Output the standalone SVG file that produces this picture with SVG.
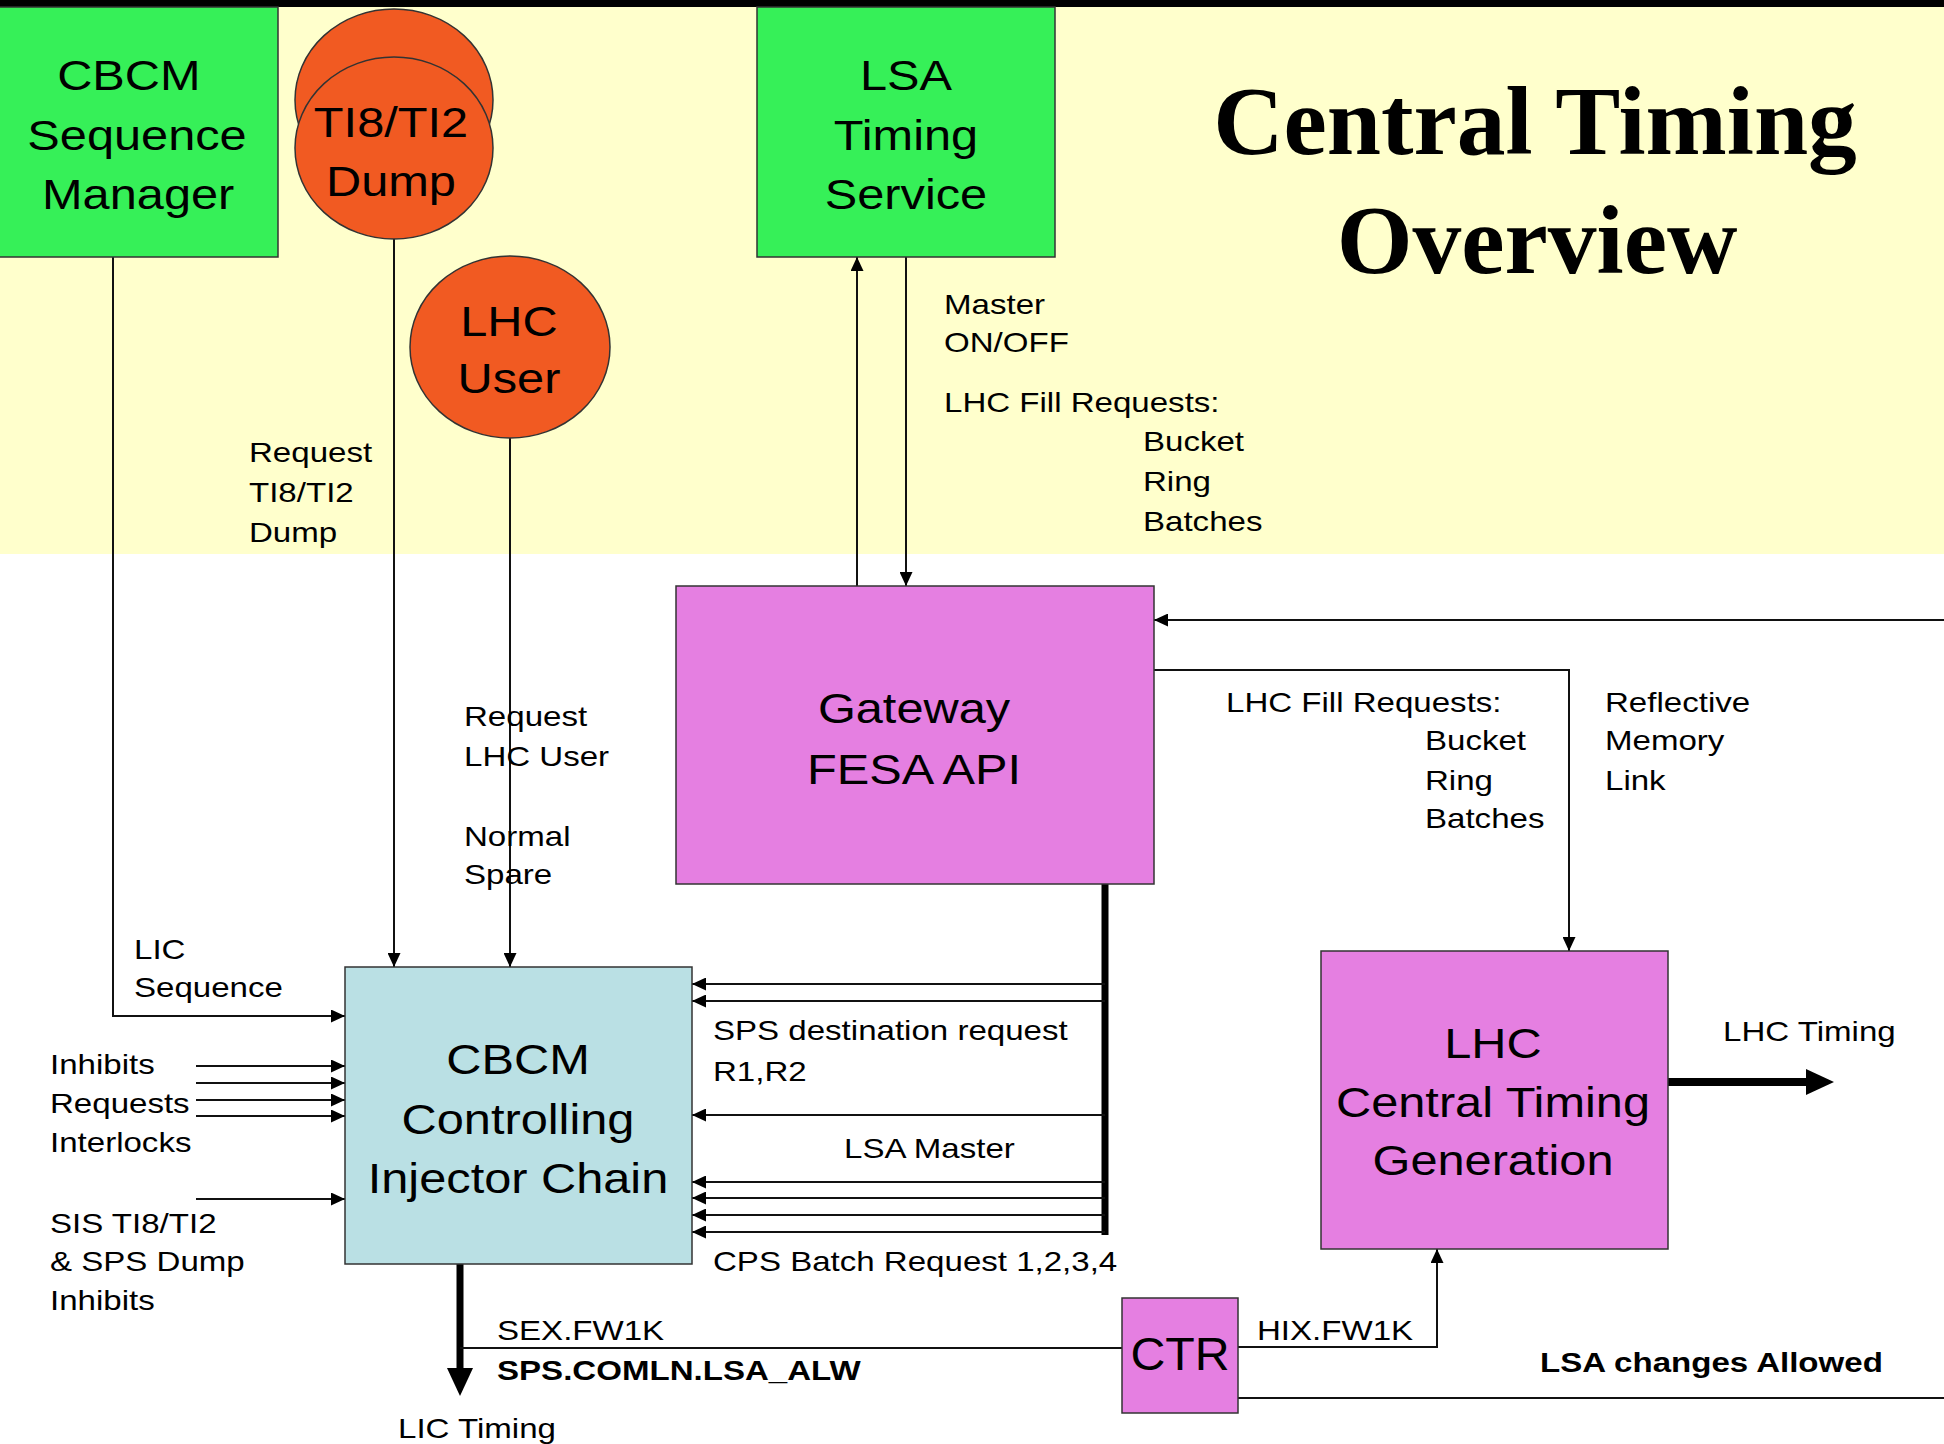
<svg xmlns="http://www.w3.org/2000/svg" width="1944" height="1444" viewBox="0 0 1944 1444">
<defs>
<style>
.n{font-family:"Liberation Sans",Arial,sans-serif;font-size:42px;fill:#000}
.l{font-family:"Liberation Sans",Arial,sans-serif;font-size:28.5px;fill:#000}
.b{font-weight:bold}
.t{font-family:"Liberation Serif","Times New Roman",serif;font-size:97.5px;font-weight:bold;fill:#000}
.green{fill:#36F058;stroke:#333;stroke-width:1.5}
.mag{fill:#E57FE1;stroke:#333;stroke-width:1.5}
.blue{fill:#BAE0E4;stroke:#333;stroke-width:1.5}
.orange{fill:#F15A22;stroke:#333;stroke-width:1.5}
.c{fill:none;stroke:#111;stroke-width:2}
.ca{fill:none;stroke:#111;stroke-width:2;marker-end:url(#ah)}
.thick{fill:none;stroke:#000;stroke-width:7}
</style>
<marker id="ah" viewBox="0 0 14 13" refX="14" refY="6.5" markerWidth="14" markerHeight="13" markerUnits="userSpaceOnUse" orient="auto">
<path d="M0,0 L14,6.5 L0,13 z" fill="#000"/>
</marker>
<marker id="bh" viewBox="0 0 28 26" refX="0" refY="13" markerWidth="28" markerHeight="26" markerUnits="userSpaceOnUse" orient="auto">
<path d="M0,0 L28,13 L0,26 z" fill="#000"/>
</marker>
</defs>
<rect x="0" y="0" width="1944" height="1444" fill="#fff"/>
<rect x="0" y="7" width="1944" height="547" fill="#FFFFCC"/>
<rect x="0" y="0" width="1944" height="7" fill="#000"/>

<g id="connectors">
<path class="ca" d="M113,257 V1016 H345"/>
<path class="ca" d="M394,239 V967"/>
<path class="ca" d="M510,437 V967"/>
<path class="ca" d="M857,586 V257"/>
<path class="ca" d="M906,257 V586"/>
<path class="ca" d="M1944,620 H1154"/>
<path class="ca" d="M1154,670 H1569 V951"/>
<path class="thick" d="M1105,884 V1235"/>
<path class="ca" d="M1105,984 H692"/>
<path class="ca" d="M1105,1001 H692"/>
<path class="ca" d="M1105,1115 H692"/>
<path class="ca" d="M1105,1182 H692"/>
<path class="ca" d="M1105,1198 H692"/>
<path class="ca" d="M1105,1215 H692"/>
<path class="ca" d="M1105,1232 H692"/>
<path class="ca" d="M196,1066 H345"/>
<path class="ca" d="M196,1083 H345"/>
<path class="ca" d="M196,1100 H345"/>
<path class="ca" d="M196,1116 H345"/>
<path class="ca" d="M196,1199 H345"/>
<path class="thick" d="M460,1264 V1368" marker-end="url(#bh)"/>
<path class="c" d="M460,1348 H1122"/>
<path class="ca" d="M1238,1347 H1437 V1249"/>
<path class="c" d="M1238,1398 H1944"/>
<path class="thick" style="stroke-width:8" d="M1668,1082 H1806" marker-end="url(#bh)"/>
</g>

<g id="cbcm-sequence-manager">
<rect class="green" x="-2" y="7" width="280" height="250"/>
<text class="n" text-anchor="middle" transform="translate(137 0) scale(1.16 1)"><tspan x="-7" y="90">CBCM</tspan><tspan x="0" y="150">Sequence</tspan><tspan x="1" y="209">Manager</tspan></text>
</g>

<g id="ti8-ti2-dump">
<ellipse class="orange" cx="394" cy="100" rx="99" ry="91"/>
<ellipse class="orange" cx="394" cy="148" rx="99" ry="91"/>
<text class="n" text-anchor="middle" transform="translate(391 0) scale(1.16 1)"><tspan x="0" y="137">TI8/TI2</tspan><tspan x="0" y="196">Dump</tspan></text>
</g>

<g id="lhc-user">
<ellipse class="orange" cx="510" cy="347" rx="100" ry="91"/>
<text class="n" text-anchor="middle" transform="translate(509 0) scale(1.16 1)"><tspan x="0" y="336">LHC</tspan><tspan x="0" y="393">User</tspan></text>
</g>

<g id="lsa-timing-service">
<rect class="green" x="757" y="7" width="298" height="250"/>
<text class="n" text-anchor="middle" transform="translate(906 0) scale(1.16 1)"><tspan x="0" y="90">LSA</tspan><tspan x="0" y="150">Timing</tspan><tspan x="0" y="209">Service</tspan></text>
</g>

<g id="title">
<text class="t" text-anchor="middle"><tspan x="1535" y="154">Central Timing</tspan><tspan x="1537" y="273">Overview</tspan></text>
</g>

<g id="gateway-fesa-api">
<rect class="mag" x="676" y="586" width="478" height="298"/>
<text class="n" text-anchor="middle" transform="translate(914 0) scale(1.16 1)"><tspan x="0" y="723">Gateway</tspan><tspan x="0" y="784">FESA API</tspan></text>
</g>

<g id="cbcm-controlling-injector-chain">
<rect class="blue" x="345" y="967" width="347" height="297"/>
<text class="n" text-anchor="middle" transform="translate(518 0) scale(1.16 1)"><tspan x="0" y="1074">CBCM</tspan><tspan x="0" y="1134">Controlling</tspan><tspan x="0" y="1193">Injector Chain</tspan></text>
</g>

<g id="lhc-central-timing-generation">
<rect class="mag" x="1321" y="951" width="347" height="298"/>
<text class="n" text-anchor="middle" transform="translate(1493 0) scale(1.16 1)"><tspan x="0" y="1058">LHC</tspan><tspan x="0" y="1117">Central Timing</tspan><tspan x="0" y="1175">Generation</tspan></text>
</g>

<g id="ctr">
<rect class="mag" x="1122" y="1298" width="116" height="115"/>
<text class="n" text-anchor="middle" style="font-size:46px" transform="translate(1180 0) scale(1.05 1)"><tspan x="0" y="1370">CTR</tspan></text>
</g>

<g id="labels">
<text class="l" transform="translate(249 0) scale(1.16 1)"><tspan x="0" y="462">Request</tspan><tspan x="0" y="502">TI8/TI2</tspan><tspan x="0" y="542">Dump</tspan></text>
<text class="l" transform="translate(944 0) scale(1.16 1)"><tspan x="0" y="314">Master</tspan><tspan x="0" y="352">ON/OFF</tspan><tspan x="0" y="412">LHC Fill Requests:</tspan></text>
<text class="l" transform="translate(1143 0) scale(1.16 1)"><tspan x="0" y="451">Bucket</tspan><tspan x="0" y="491">Ring</tspan><tspan x="0" y="531">Batches</tspan></text>
<text class="l" transform="translate(464 0) scale(1.16 1)"><tspan x="0" y="726">Request</tspan><tspan x="0" y="766">LHC User</tspan><tspan x="0" y="846">Normal</tspan><tspan x="0" y="884">Spare</tspan></text>
<text class="l" transform="translate(134 0) scale(1.16 1)"><tspan x="0" y="959">LIC</tspan><tspan x="0" y="997">Sequence</tspan></text>
<text class="l" transform="translate(50 0) scale(1.16 1)"><tspan x="0" y="1074">Inhibits</tspan><tspan x="0" y="1113">Requests</tspan><tspan x="0" y="1152">Interlocks</tspan></text>
<text class="l" transform="translate(50 0) scale(1.16 1)"><tspan x="0" y="1233">SIS TI8/TI2</tspan><tspan x="0" y="1271">&amp; SPS Dump</tspan><tspan x="0" y="1310">Inhibits</tspan></text>
<text class="l" transform="translate(713 0) scale(1.16 1)"><tspan x="0" y="1040">SPS destination request</tspan><tspan x="0" y="1081">R1,R2</tspan></text>
<text class="l" transform="translate(844 0) scale(1.16 1)"><tspan x="0" y="1158">LSA Master</tspan></text>
<text class="l" transform="translate(713 0) scale(1.16 1)"><tspan x="0" y="1271">CPS Batch Request 1,2,3,4</tspan></text>
<text class="l" transform="translate(1226 0) scale(1.16 1)"><tspan x="0" y="712">LHC Fill Requests:</tspan></text>
<text class="l" transform="translate(1425 0) scale(1.16 1)"><tspan x="0" y="750">Bucket</tspan><tspan x="0" y="790">Ring</tspan><tspan x="0" y="828">Batches</tspan></text>
<text class="l" transform="translate(1605 0) scale(1.16 1)"><tspan x="0" y="712">Reflective</tspan><tspan x="0" y="750">Memory</tspan><tspan x="0" y="790">Link</tspan></text>
<text class="l" transform="translate(1723 0) scale(1.16 1)"><tspan x="0" y="1041">LHC Timing</tspan></text>
<text class="l" transform="translate(497 0) scale(1.16 1)"><tspan x="0" y="1340">SEX.FW1K</tspan></text>
<text class="l b" transform="translate(497 0) scale(1.16 1)"><tspan x="0" y="1380">SPS.COMLN.LSA_ALW</tspan></text>
<text class="l" transform="translate(398 0) scale(1.16 1)"><tspan x="0" y="1438">LIC Timing</tspan></text>
<text class="l" transform="translate(1257 0) scale(1.16 1)"><tspan x="0" y="1340">HIX.FW1K</tspan></text>
<text class="l b" transform="translate(1540 0) scale(1.16 1)"><tspan x="0" y="1372">LSA changes Allowed</tspan></text>
</g>
</svg>
